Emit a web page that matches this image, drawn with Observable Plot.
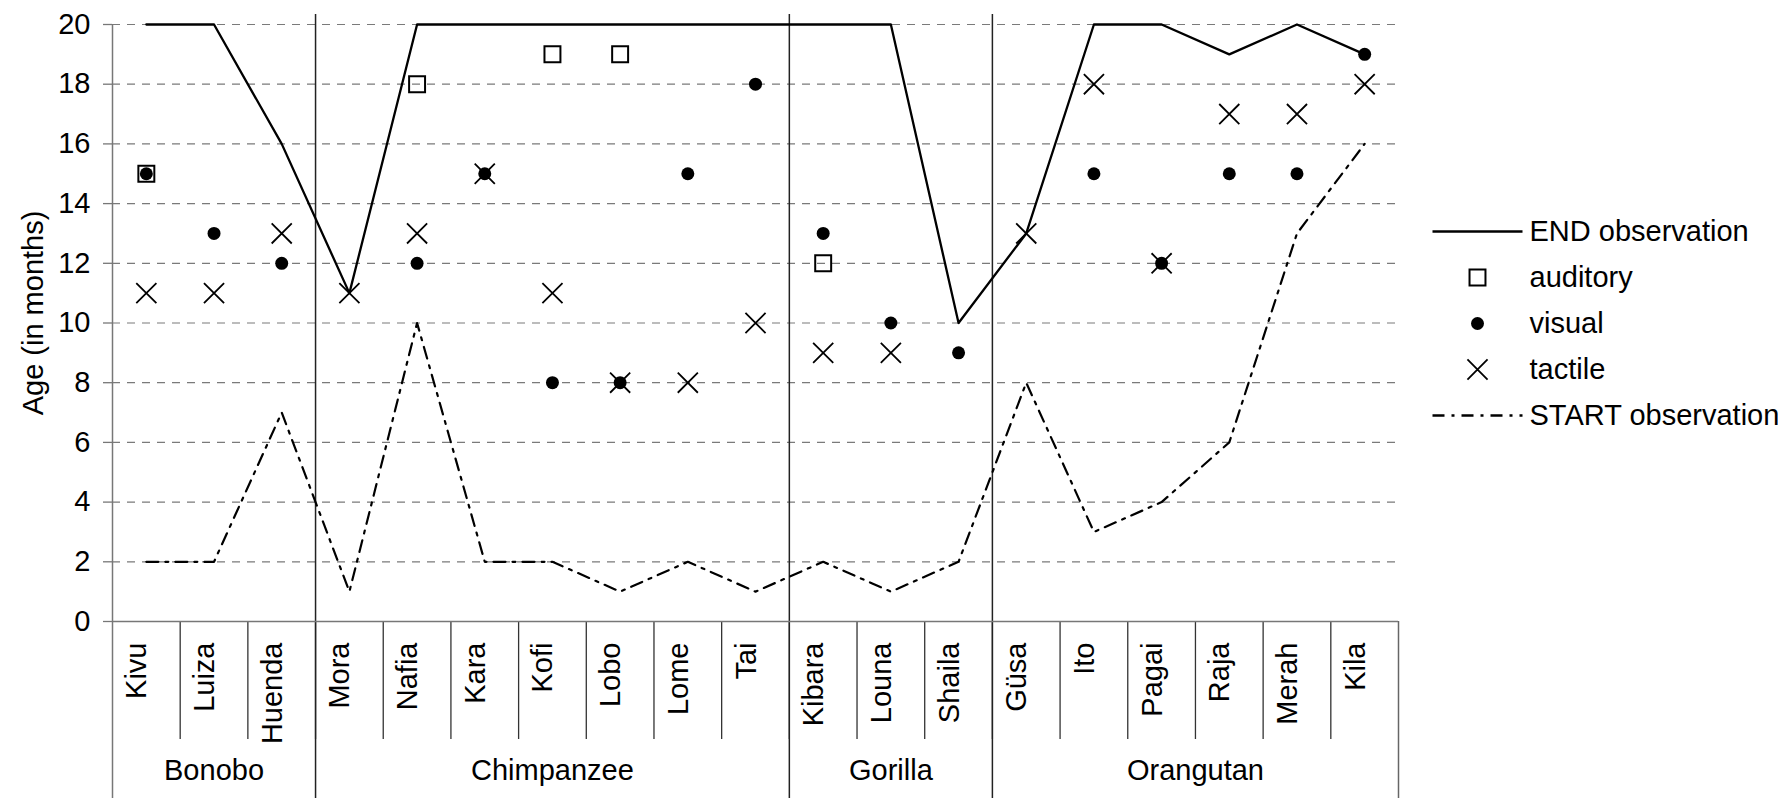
<!DOCTYPE html>
<html>
<head>
<meta charset="utf-8">
<script src="https://cdn.jsdelivr.net/npm/d3@7"></script>
<script src="https://cdn.jsdelivr.net/npm/@observablehq/plot@0.6"></script>
<style>
  body { margin: 0; background: #fff; }
  #wrap { position: relative; width: 1778px; height: 798px; font-family: "Liberation Sans", Arial, sans-serif; }
  #wrap svg { position: absolute; top: 0; }
</style>
</head>
<body>
<div id="wrap"></div>
<script>
// ---- data ----
const individuals = ["Kivu","Luiza","Huenda","Mora","Nafia","Kara","Kofi","Lobo","Lome","Tai","Kibara","Louna","Shaila","Güsa","Ito","Pagai","Raja","Merah","Kila"];
const species = ["Bonobo","Chimpanzee","Gorilla","Orangutan"];
const speciesCounts = [3, 7, 3, 6];
const endObservation   = [20,20,16,11,20,20,20,20,20,20,20,20,10,13,20,20,19,20,19];
const startObservation = [2,2,7,1,10,2,2,1,2,1,2,1,2,8,3,4,6,13,16];
const auditory = [15,null,null,null,18,null,19,19,null,null,12,null,null,null,null,null,null,null,null];
const visual   = [15,13,12,null,12,15,8,8,15,18,13,10,9,null,15,12,15,15,19];
const tactile  = [11,11,13,11,13,15,11,8,8,10,9,9,null,13,18,12,17,17,18];
const yTicks = [0,2,4,6,8,10,12,14,16,18,20];
const yLabel = "Age (in months)";
const legendLabels = ["END observation","auditory","visual","tactile","START observation"];

// ---- derived tables ----
const rows = individuals.map((name, i) => ({
  name, pos: i + 0.5,
  end: endObservation[i], start: startObservation[i],
  auditory: auditory[i], visual: visual[i], tactile: tactile[i]
}));
let acc = 0;
const speciesRows = species.map((name, k) => {
  const s = acc; acc += speciesCounts[k];
  return {name, from: s, to: acc, mid: (s + acc) / 2};
});
const innerBounds = speciesRows.slice(1).map(d => d.from);
const allBounds = d3.range(1, individuals.length);
const N = individuals.length;

const FONT = "Liberation Sans, Arial, sans-serif";
const FS = 29;
const W = 1778, H = 798;

const main = Plot.plot({
  width: W, height: H,
  marginLeft: 112, marginRight: 380, marginTop: 24, marginBottom: 177,
  style: {fontFamily: FONT, color: "#000", background: "transparent"},
  x: {type: "linear", domain: [0, N], axis: null},
  y: {domain: [0, 20], axis: null},
  marks: [
    Plot.gridY(yTicks.filter(d => d > 0), {stroke: "#7a7a7a", strokeOpacity: 1, strokeWidth: 1.2, strokeDasharray: "8,7"}),
    // individual separators in the category area
    Plot.ruleX(allBounds, {x: d => d, y1: 0, y2: 0, insetBottom: -118, stroke: "#333", strokeWidth: 1.3}),
    // species separators (full height)
    Plot.ruleX(innerBounds, {x: d => d, insetTop: -10, insetBottom: -177, stroke: "#222", strokeWidth: 1.5}),
    // left axis line down to the bottom
    Plot.ruleX([0], {x: d => d, insetBottom: -177, stroke: "#777", strokeWidth: 1.5}),
    // right border of category area
    Plot.ruleX([N], {x: d => d, y1: 0, y2: 0, insetBottom: -177, stroke: "#666", strokeWidth: 1.5}),
    // x axis line
    Plot.ruleY([0], {stroke: "#777", strokeWidth: 1.5}),
    Plot.axisY({ticks: yTicks, tickSize: 9, tickPadding: 13, fontSize: FS, label: null, stroke: "#777", strokeWidth: 1.3}),
    Plot.text([yLabel], {text: d => d, frameAnchor: "left", textAnchor: "middle", rotate: -90, dx: -79, dy: -10, fontSize: FS}),
    // category labels
    Plot.text(rows, {x: "pos", text: "name", frameAnchor: "bottom", rotate: -90, textAnchor: "end", dy: 21, fontSize: FS}),
    Plot.text(speciesRows, {x: "mid", text: "name", frameAnchor: "bottom", dy: 158, fontSize: FS}),
    // series
    Plot.line(rows, {x: "pos", y: "start", stroke: "#000", strokeWidth: 2.2, strokeDasharray: "12,7,3,7"}),
    Plot.line(rows, {x: "pos", y: "end", stroke: "#000", strokeWidth: 2.3}),
    Plot.dot(rows.filter(d => d.auditory != null), {x: "pos", y: "auditory", symbol: "square", r: 9, stroke: "#000", strokeWidth: 2, fill: "none"}),
    Plot.dot(rows.filter(d => d.visual != null), {x: "pos", y: "visual", r: 6.5, fill: "#000", stroke: "none"}),
    Plot.dot(rows.filter(d => d.tactile != null), {x: "pos", y: "tactile", symbol: "times", r: 9.2, stroke: "#000", strokeWidth: 1.8})
  ]
});

const legend = Plot.plot({
  width: 380, height: H, margin: 0,
  style: {fontFamily: FONT, color: "#000", background: "transparent"},
  x: {domain: [0, 1], range: [34, 124], axis: null},
  y: {type: "point", domain: legendLabels, range: [230, 416], padding: 0, axis: null},
  marks: [
    Plot.link([legendLabels[0]], {x1: 0, x2: 1, y1: d => d, y2: d => d, stroke: "#000", strokeWidth: 2.3}),
    Plot.link([legendLabels[4]], {x1: 0, x2: 1, y1: d => d, y2: d => d, stroke: "#000", strokeWidth: 2.4, strokeDasharray: "12,7,3,7"}),
    Plot.dot([legendLabels[1]], {x: 0.5, y: d => d, symbol: "square", r: 9, stroke: "#000", strokeWidth: 2, fill: "none"}),
    Plot.dot([legendLabels[2]], {x: 0.5, y: d => d, r: 6.5, fill: "#000", stroke: "none"}),
    Plot.dot([legendLabels[3]], {x: 0.5, y: d => d, symbol: "times", r: 9.2, stroke: "#000", strokeWidth: 1.8}),
    Plot.text(legendLabels, {x: 1, y: d => d, text: d => d, textAnchor: "start", dx: 7, fontSize: FS})
  ]
});

const wrap = document.getElementById("wrap");
main.style.left = "0px";
legend.style.left = "1398px";
wrap.appendChild(main);
wrap.appendChild(legend);
</script>
</body>
</html>
